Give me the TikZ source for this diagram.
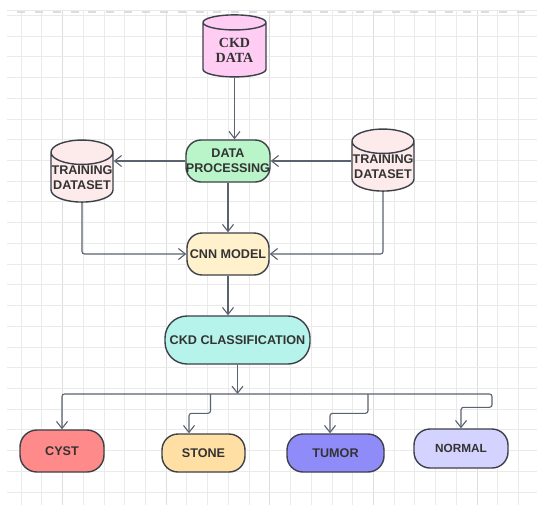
\documentclass[tikz,border=0pt]{standalone}
\usepackage{fontspec}
\setmainfont{Liberation Sans}
\newfontfamily\serifbold{Liberation Serif}
\usetikzlibrary{shapes.geometric,arrows.meta,calc}
\definecolor{gridc}{HTML}{EAEAEA}
\definecolor{gridd}{HTML}{DDDDDD}
\definecolor{bordc}{HTML}{3C4048}
\definecolor{linec}{HTML}{5A6270}
\definecolor{txtc}{HTML}{333333}
\definecolor{fckd}{HTML}{FFCCF4}
\definecolor{fdp}{HTML}{B9F5C9}
\definecolor{ftrain}{HTML}{FDEBEB}
\definecolor{fcnn}{HTML}{FFF1CC}
\definecolor{fcls}{HTML}{B6F3EA}
\definecolor{fcyst}{HTML}{FF8A8A}
\definecolor{fstone}{HTML}{FFDFA3}
\definecolor{ftumor}{HTML}{8F8CFA}
\definecolor{fnormal}{HTML}{D4D3FF}
\begin{document}
\begin{tikzpicture}[x=1pt,y=-1pt,
  box/.style={draw=bordc, line width=1.4pt, rounded corners=15pt, minimum width=82pt, minimum height=42pt, inner sep=0pt, align=center, font=\bfseries\fontsize{12.6}{15}\selectfont, text=txtc},
  cyl/.style={cylinder, shape border rotate=90, aspect=0.4, draw=bordc, line width=1.4pt, minimum width=62pt, minimum height=62pt, inner sep=0pt, align=center, font=\bfseries\fontsize{12.6}{15}\selectfont, text=txtc},
  conn/.style={draw=linec, line width=1.1pt, rounded corners=2.5pt, -{Straight Barb[length=7pt,width=11pt,line width=1.1pt]}}
]
\useasboundingbox (0,0) rectangle (537,507);
\fill[white] (0,0) rectangle (537,507);
% grid
\foreach \k in {0,...,24} {
  \pgfmathsetmacro\gx{21+20.727*\k}
  \draw[gridc, line width=0.8pt] (\gx,10) -- (\gx,505);
}
\foreach \k in {2,7,12,17,22} {
  \pgfmathsetmacro\gx{21+20.727*\k}
  \draw[gridd, line width=0.9pt] (\gx,10) -- (\gx,505);
}
\foreach \k in {0,...,23} {
  \pgfmathsetmacro\gy{15.3+20.727*\k}
  \draw[gridc, line width=0.8pt] (7,\gy) -- (537,\gy);
}
\draw[gridc, line width=0.8pt] (7,10) -- (537,10);
\foreach \k in {0,...,28} {
  \pgfmathsetmacro\dx{17+17.85*\k}
  \draw[gridd, line width=1.6pt] (\dx,12) -- ++(8,0);
}
% nodes
\node[cyl, fill=fckd, minimum width=63pt, font=\serifbold\bfseries\fontsize{14}{15}\selectfont] (ckd) at (234.5,50) {CKD\\DATA};
\node[box, fill=fdp] (dp) at (228,161) {DATA\\PROCESSING};
\node[cyl, fill=ftrain] (tl) at (82,177.5) {TRAINING\\DATASET};
\node[cyl, fill=ftrain] (tr) at (383,166.5) {TRAINING\\DATASET};
\node[box, fill=fcnn] (cnn) at (228,254) {CNN MODEL};
\node[box, fill=fcls, minimum width=145pt, minimum height=48pt, rounded corners=22pt] (cls) at (237.5,340) {CKD CLASSIFICATION};
\node[box, fill=fcyst, minimum width=84pt, rounded corners=17pt] (cyst) at (62,451) {CYST};
\node[box, fill=fstone, minimum width=83pt, minimum height=38pt, rounded corners=16pt] (stone) at (203.5,453) {STONE};
\node[box, fill=ftumor, minimum width=97pt, minimum height=38pt, rounded corners=16pt] (tumor) at (335.5,453) {TUMOR};
\node[box, fill=fnormal, minimum width=94pt, minimum height=39pt, rounded corners=16pt, font=\bfseries\fontsize{11.8}{14}\selectfont] (normal) at (461,448.5) {NORMAL};
% connectors
\draw[conn] (ckd.south) -- (ckd.south |- dp.north);
\draw[conn] (dp.west) -- (dp.west -| tl.east);
\draw[conn] (dp.east -| tr.west) -- (dp.east);
\draw[conn] (dp.south) -- (cnn.north);
\draw[conn] (tl.south) |- (cnn.west);
\draw[conn] (tr.south) |- (cnn.east);
\draw[conn] (cnn.south) -- (cnn.south |- cls.north);
\coordinate (bus) at (237.5,394);
\coordinate (busR) at (492,394);
\draw[conn] (cls.south) -- (bus);
\draw[conn] (bus) -| (cyst.north);
\draw[conn] (bus) -- (busR) |- ($(normal.north)+(0,-21)$) -- (normal.north);
\draw[conn] (210.5,394) |- ($(stone.north)+(-14.5,-20)$) -- ($(stone.north)+(-14.5,0)$);
\draw[conn] (368,394) |- ($(tumor.north)+(-5.5,-20)$) -- ($(tumor.north)+(-5.5,0)$);
\end{tikzpicture}
\end{document}
